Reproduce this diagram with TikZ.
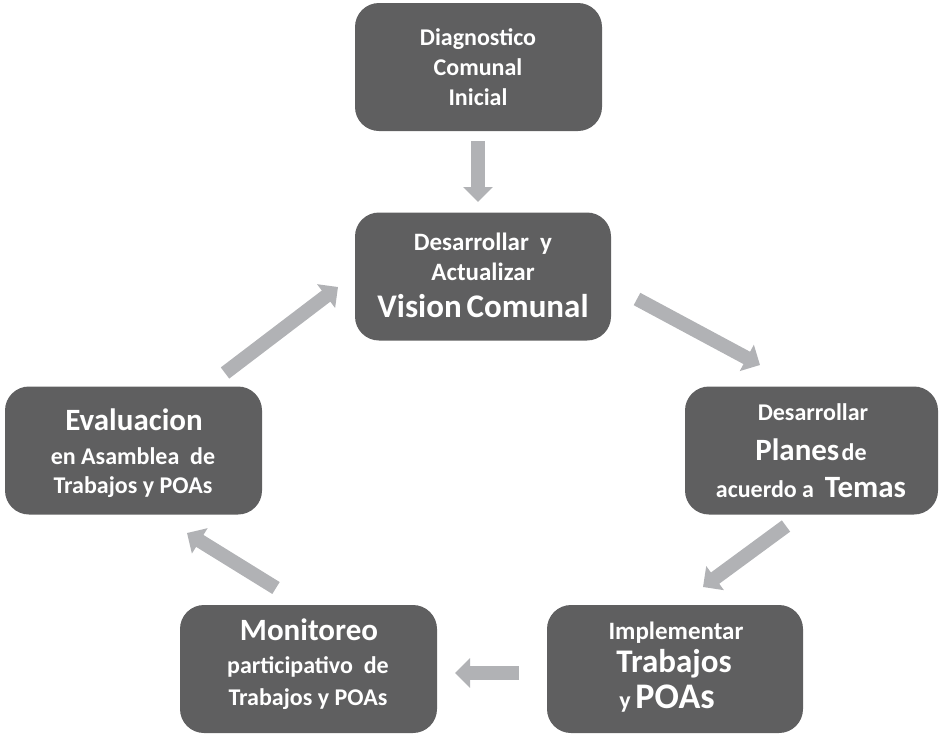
\documentclass[tikz,border=0pt]{standalone}
\usepackage{fontspec}
\setmainfont{Carlito}
\usetikzlibrary{arrows.meta}
\definecolor{boxgray}{RGB}{95,95,96}
\definecolor{arrowgray}{RGB}{177,178,181}
\newcommand\mysize[1]{\fontsize{#1}{#1}\selectfont}
\begin{document}
\begin{tikzpicture}[x=1pt,y=-1pt,
  box/.style={fill=boxgray, rounded corners=24pt, inner sep=0pt, minimum width=#1, minimum height=128pt},
  box/.default=250pt,
  txt/.style={text=white, font=\bfseries, anchor=base, inner sep=0pt},
  blockarrow/.style={draw=arrowgray, line width=14pt, -{Triangle[length=15pt,width=29pt]}}]
\useasboundingbox (0,0) rectangle (939,734);
% boxes
\node[box=247pt] (diag) at (478.5,67) {};
\node[box=256pt] (vision) at (483,276.5) {};
\node[box=257pt] (eval) at (133.5,450.5) {};
\node[box=253pt] (planes) at (811.5,450.5) {};
\node[box=257pt] (monit) at (308.5,669) {};
\node[box=256pt] (impl) at (675,669) {};
% texts
\node[txt] (diag1) at (478,45) {\mysize{24}Diagnostico};
\node[txt] (diag2) at (478,75) {\mysize{24}Comunal};
\node[txt] (diag3) at (478,105) {\mysize{24}Inicial};
\node[txt] (vis1) at (483,250) {\mysize{25}Desarrollar\ \ y};
\node[txt] (vis2) at (483,280) {\mysize{25}Actualizar};
\node[txt] (vis3) at (483,317) {\mysize{33}Vision\hspace{0.15em}Comunal};
\node[txt] (ev1) at (134,430) {\mysize{31}Evaluacion};
\node[txt] (ev2) at (133,464) {\mysize{24}en Asamblea\ \ de};
\node[txt] (ev3) at (133,493) {\mysize{24}Trabajos y POAs};
\node[txt] (pl1) at (813,420) {\mysize{24}Desarrollar};
\node[txt] (pl2) at (811,460) {\mysize{31}Planes\mysize{24}\hspace{0.1em}de};
\node[txt] (pl3) at (811,497) {\mysize{24}acuerdo a\ \ \mysize{31}Temas};
\node[txt] (mo1) at (309,640) {\mysize{31}Monitoreo};
\node[txt] (mo2) at (308,673) {\mysize{24}participativo\ \ de};
\node[txt] (mo3) at (308,705) {\mysize{24}Trabajos y POAs};
\node[txt] (im1) at (676,639) {\mysize{25}Implementar};
\node[txt] (im2) at (674,672) {\mysize{33}Trabajos};
\node[txt] (im3) at (667,708) {\mysize{24}y\hspace{0.2em}\mysize{36}POAs};
% arrow end points
\coordinate (a1s) at (478,141); \coordinate (a1e) at (478,202);
\coordinate (a2s) at (637,299); \coordinate (a2e) at (760,365);
\coordinate (a3s) at (786,526); \coordinate (a3e) at (703,587);
\coordinate (a4s) at (519,673); \coordinate (a4e) at (455,673);
\coordinate (a5s) at (276,588); \coordinate (a5e) at (187,533);
\coordinate (a6s) at (225,373); \coordinate (a6e) at (338,287);
\draw[blockarrow] (a1s) -- (a1e);
\draw[blockarrow] (a2s) -- (a2e);
\draw[blockarrow] (a3s) -- (a3e);
\draw[blockarrow] (a4s) -- (a4e);
\draw[blockarrow] (a5s) -- (a5e);
\draw[blockarrow] (a6s) -- (a6e);
\end{tikzpicture}
\end{document}
